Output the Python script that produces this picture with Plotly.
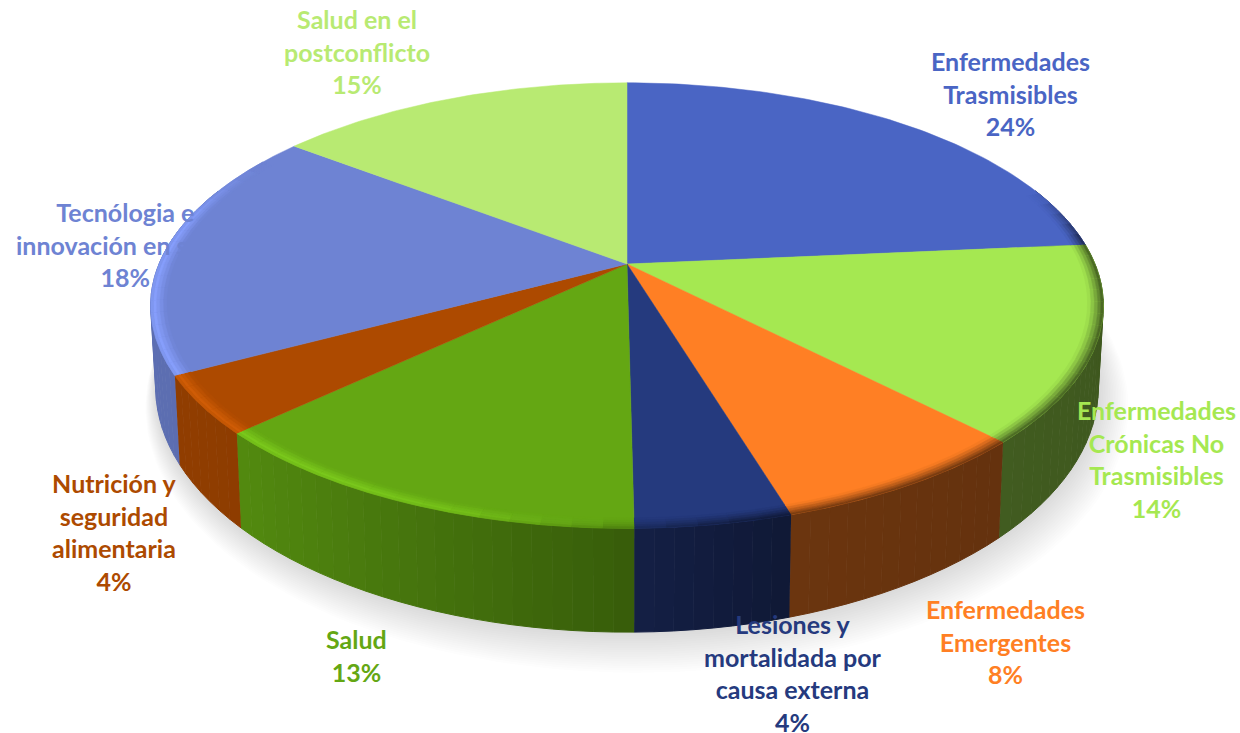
import numpy as np
import plotly.graph_objects as go

categories = ["Enfermedades<br>Trasmisibles", "Enfermedades<br>Crónicas No<br>Trasmisibles",
              "Enfermedades<br>Emergentes", "Lesiones y<br>mortalidada por<br>causa externa<br>",
              "Salud", "Nutrición y<br>seguridad<br>alimentaria",
              "Tecnólogia e<br>innovación en salud", "Salud en el<br>postconflicto"]
values = [23.55, 14.2, 7.6, 4.45, 13.15, 4.2, 18.3, 14.55]
colors = ["#4A65C4", "#A5E851", "#FF7F24", "#253A7E", "#64A713", "#AD4A00", "#6E83D3", "#B8EA72"]
label_x = [1010, 1156, 1005, 793, 356, 114, 125, 357]
label_y = [93, 459, 641, 673, 655, 532, 244, 51]

W, H = 1240, 733
CX, CY, A, B, K = 627, 264, 468, 215, 0.1866
CXB, CYB, AB, BB = 627, 342, 463, 236


def top_pt(r, t):
    x, y = r * np.sin(t), r * np.cos(t)
    d = 1 + K * y
    return CX + A * x / d, CY - B * y / d


def bot_pt(t, grow=0.0, dx=0.0, dy=0.0):
    x, y = np.sin(t), np.cos(t)
    d = 1 + K * y
    return CXB + dx + (AB + grow) * x / d, CYB + dy - (BB + grow) * y / d


def rgb(h):
    return np.array([int(h[i:i + 2], 16) for i in (1, 3, 5)], float)


def css(c):
    c = np.clip(c, 0, 255)
    return f"rgb({int(c[0])},{int(c[1])},{int(c[2])})"


def side_factor(x):
    return float(np.interp(x, [-1, -.7, 0, .3, 1], [.85, .82, .56, .42, .38]))


fig = go.Figure()


def poly(xs, ys, color, lw=0.8):
    fig.add_trace(go.Scatter(x=xs, y=ys, mode="lines", fill="toself", fillcolor=color,
                             line=dict(color=color, width=lw), hoverinfo="skip", showlegend=False))


# soft shadow under the pie
all_t = np.linspace(0, 2 * np.pi, 181)
for i in range(18, 0, -1):
    sx, sy = bot_pt(all_t, grow=i * 1.1, dx=i * 0.55, dy=i * 0.9)
    fig.add_trace(go.Scatter(x=sx, y=sy, mode="lines", fill="toself", fillcolor="rgba(90,90,90,0.013)",
                             line=dict(width=0), hoverinfo="skip", showlegend=False))

cum = np.concatenate([[0], np.cumsum(values)]) / sum(values) * 2 * np.pi

# side wall
for i, col in enumerate(colors):
    base = rgb(col)
    a0, a1 = cum[i], cum[i + 1]
    n = max(2, int((a1 - a0) / np.radians(2)))
    edges = np.linspace(a0, a1, n + 1)
    for s in range(n):
        m = (edges[s] + edges[s + 1]) / 2
        if np.cos(m) > 0.35:
            continue
        seg = np.linspace(edges[s], edges[s + 1], 3)
        tx, ty = top_pt(1.0, seg)
        bx, by = bot_pt(seg)
        poly(np.r_[tx, bx[::-1]], np.r_[ty, by[::-1]], css(base * side_factor(np.sin(m))), lw=1.0)

# top faces
for i, col in enumerate(colors):
    seg = np.linspace(cum[i], cum[i + 1], 80)
    tx, ty = top_pt(1.0, seg)
    poly(np.r_[CX, tx, CX], np.r_[CY, ty, CY], col, lw=0.5)

# bevel band along the rim
radii = [0.968, 0.975, 0.982, 0.989, 0.995, 1.0]
for i, col in enumerate(colors):
    base = rgb(col)
    a0, a1 = cum[i], cum[i + 1]
    n = max(2, int((a1 - a0) / np.radians(3)))
    edges = np.linspace(a0, a1, n + 1)
    for s in range(n):
        m = (edges[s] + edges[s + 1]) / 2
        x, y = np.sin(m), np.cos(m)
        hi = float(np.interp(x, [-1, -.5, -.05, .05], [.16, .16, .08, 0])) * float(np.interp(y, [.2, .5], [1, 0]))
        dark = float(np.interp(x, [-.3, .2], [0, 1])) * float(np.interp(y, [.1, .35], [1, 0]))
        if hi == 0 and dark == 0:
            continue
        side = base * side_factor(x)
        seg = np.linspace(edges[s], edges[s + 1], 3)
        for b in range(len(radii) - 1):
            u = (b + 0.5) / (len(radii) - 1)
            tent = np.interp(u, [0, .7, 1], [0, 1, .6])
            c = base * (1 + hi * tent) + 40 * hi * tent
            w = dark * u ** 1.2
            c = c * (1 - w) + side * w
            ox, oy = top_pt(radii[b + 1], seg)
            ix, iy = top_pt(radii[b], seg)
            poly(np.r_[ox, ix[::-1]], np.r_[oy, iy[::-1]], css(c), lw=0.6)

annotations = []
for name, v, col, lx, ly in zip(categories, values, colors, label_x, label_y):
    sep = "" if name.endswith("<br>") else "<br>"
    annotations.append(dict(x=lx, y=ly, xref="x", yref="y", showarrow=False, align="center",
                            xanchor="center", yanchor="middle",
                            text=f"<b>{name}{sep}{round(v)}%</b>",
                            font=dict(family="Lato", size=25, color=col)))

fig.update_layout(width=W, height=H, margin=dict(l=0, r=0, t=0, b=0), autosize=False,
                  paper_bgcolor="white", plot_bgcolor="white", annotations=annotations,
                  xaxis=dict(range=[0, W], visible=False, fixedrange=True),
                  yaxis=dict(range=[H, 0], visible=False, fixedrange=True))
fig.write_html("out.html", config={"displayModeBar": False},
               post_script="document.body.style.margin='0';")
